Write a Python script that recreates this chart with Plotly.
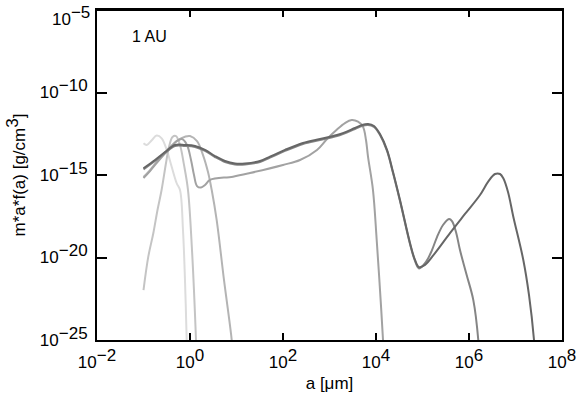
import numpy as np
import plotly.graph_objects as go

# log10 of grain size a [um] and log10 of m*a*f(a) [g/cm^3]
logA_A = [-1.0, -0.93, -0.817, -0.716, -0.609, -0.501, -0.394, -0.286, -0.215, -0.151, -0.108, -0.071, -0.06]
logF_A = [-13.08, -13.18, -12.88, -12.61, -12.78, -13.48, -14.50, -15.50, -15.91, -18.33, -21.36, -25.0, -26.0]

logA_B = [-1.0, -0.897, -0.789, -0.699, -0.611, -0.516, -0.452, -0.376, -0.301, -0.215, -0.129, -0.043, 0.043, 0.129, 0.14]
logF_B = [-21.97, -19.95, -18.53, -17.12, -15.91, -14.27, -13.30, -12.70, -12.64, -13.18, -14.39, -15.91, -19.55, -25.0, -26.0]

logA_C = [-1.0, -0.86, -0.645, -0.43, -0.258, -0.108, 0.0, 0.151, 0.28, 0.387, 0.467, 0.574, 0.731, 0.897, 0.92]
logF_C = [-15.12, -14.70, -13.97, -13.30, -12.88, -12.68, -12.64, -12.95, -13.79, -14.82, -15.91, -17.73, -21.36, -25.0, -26.0]

logA_D = [-1.0, -0.86, -0.645, -0.43, -0.28, -0.172, -0.065, 0.022, 0.086, 0.151, 0.237, 0.323, 0.43, 0.925,
          1.29, 2.0, 2.366, 2.731, 2.946, 3.161, 3.333, 3.477, 3.613, 3.72, 3.785, 3.828, 3.935, 4.015, 4.086, 4.151, 4.165]
logF_D = [-15.18, -14.76, -14.03, -13.36, -12.94, -12.82, -13.18, -14.09, -15.0, -15.67, -15.76, -15.61, -15.30, -15.10,
          -14.88, -14.39, -14.09, -13.48, -12.82, -12.24, -11.85, -11.67, -11.77, -12.07, -12.88, -13.89, -15.91, -18.94, -21.97, -25.0, -26.0]

logA_F = [-1.0, -0.753, -0.538, -0.323, -0.108, 0.108, 0.323, 0.538, 0.753, 0.968, 1.183, 1.505, 1.72, 2.043, 2.43,
          2.796, 3.161, 3.548, 3.699, 3.828, 3.957, 4.086, 4.237, 4.366, 4.516, 4.731, 4.839, 4.925, 5.075, 5.204,
          5.312, 5.441, 5.57, 5.634, 5.72, 5.806, 5.95, 6.093, 6.2, 6.22]
logF_F = [-14.66, -14.15, -13.67, -13.24, -13.24, -13.30, -13.54, -13.91, -14.21, -14.36, -14.36, -14.21, -13.95, -13.54, -13.12,
          -12.88, -12.64, -12.21, -12.03, -11.97, -12.09, -12.58, -13.54, -14.88, -16.58, -19.18, -20.21, -20.66, -20.27, -19.55,
          -18.76, -18.03, -17.67, -17.79, -18.45, -19.55, -21.06, -22.58, -25.0, -26.0]

logA_E = [-1.0, -0.753, -0.538, -0.323, -0.108, 0.108, 0.323, 0.538, 0.753, 0.968, 1.183, 1.505, 1.72, 2.043, 2.43,
          2.796, 3.161, 3.548, 3.699, 3.828, 3.957, 4.086, 4.237, 4.366, 4.516, 4.731, 4.839, 4.925, 5.054, 5.269,
          5.591, 5.914, 6.237, 6.409, 6.559, 6.667, 6.738, 6.839, 6.953, 7.168, 7.29, 7.398, 7.42]
logF_E = [-14.59, -14.09, -13.61, -13.18, -13.18, -13.24, -13.48, -13.85, -14.15, -14.30, -14.30, -14.15, -13.89, -13.48, -13.06,
          -12.82, -12.58, -12.15, -11.97, -11.91, -12.03, -12.52, -13.48, -14.82, -16.52, -19.12, -20.15, -20.58, -20.45, -19.73,
          -18.52, -17.36, -16.21, -15.42, -14.94, -14.94, -15.20, -16.03, -17.53, -20.15, -22.27, -25.0, -26.0]

series = [
    (logA_A, logF_A, "#dcdcdc"),
    (logA_B, logF_B, "#c4c4c4"),
    (logA_C, logF_C, "#b4b4b4"),
    (logA_D, logF_D, "#a2a2a2"),
    (logA_F, logF_F, "#858585"),
    (logA_E, logF_E, "#666666"),
]

x_exponents = ["−2", "0", "2", "4", "6", "8"]
x_tickvals = [1e-2, 1e0, 1e2, 1e4, 1e6, 1e8]
y_exponents = ["−25", "−20", "−15", "−10"]
y_tickvals = [1e-25, 1e-20, 1e-15, 1e-10, 1e-5]
y_top_exponent = "−5"

FS = 17
def pow_label(e):
    return "10<sup><span style='font-size:%dpx'>%s</span></sup>" % (FS, e)

fig = go.Figure()
for lx, ly, col in series:
    fig.add_trace(go.Scatter(
        x=10 ** np.array(lx), y=10 ** np.array(ly), mode="lines",
        line=dict(color=col, width=2, shape="spline", smoothing=1.0),
        showlegend=False, hoverinfo="skip", cliponaxis=True))

fam = "Liberation Sans, Arial, sans-serif"
tickfont = dict(family=fam, size=FS, color="black")
fig.update_layout(
    width=578, height=393,
    margin=dict(l=97, r=16, t=10, b=53),
    paper_bgcolor="white", plot_bgcolor="white",
    font=dict(family=fam, size=FS, color="black"),
    xaxis=dict(type="log", range=[-2, 8], tickvals=x_tickvals,
               ticktext=[pow_label(e) for e in x_exponents],
               tickfont=tickfont, automargin=False, ticklabelstandoff=6,
               ticklabeloverflow="allow",
               ticks="inside", ticklen=7, tickwidth=2, tickcolor="black",
               showline=True, linewidth=2, linecolor="black", mirror="ticks",
               showgrid=False, zeroline=False,
               title=dict(text="a [μm]", standoff=8, font=dict(family=fam, size=FS))),
    yaxis=dict(type="log", range=[-25, -4.9999], tickvals=y_tickvals,
               ticktext=[pow_label(e) for e in y_exponents] + [""],
               tickfont=tickfont, automargin=False, ticklabelstandoff=4,
               ticklabeloverflow="allow",
               ticks="inside", ticklen=10, tickwidth=2, tickcolor="black",
               showline=True, linewidth=2, linecolor="black", mirror="ticks",
               showgrid=False, zeroline=False,
               title=dict(text="m*a*f(a) [g/cm<sup><span style='font-size:%dpx'>3</span></sup>]" % FS,
                          standoff=10, font=dict(family=fam, size=FS))),
    shapes=[dict(type="line", xref="paper", yref="paper", x0=0, y0=1, x1=1, y1=1,
                 line=dict(color="black", width=2), layer="above")],
    annotations=[
        dict(text="1 AU", x=0.072, y=0.92, xref="paper", yref="paper",
             showarrow=False, xanchor="left", yanchor="middle",
             font=dict(family=fam, size=16, color="black")),
        dict(text=pow_label(y_top_exponent), x=0, y=1, xref="paper", yref="paper",
             showarrow=False, xanchor="right", yanchor="middle", xshift=-5, yshift=-6,
             font=dict(family=fam, size=FS, color="black")),
    ],
)

fig.write_html("out.html", config={"displayModeBar": False},
               post_script="document.body.style.margin='0';document.body.style.overflow='hidden';")
